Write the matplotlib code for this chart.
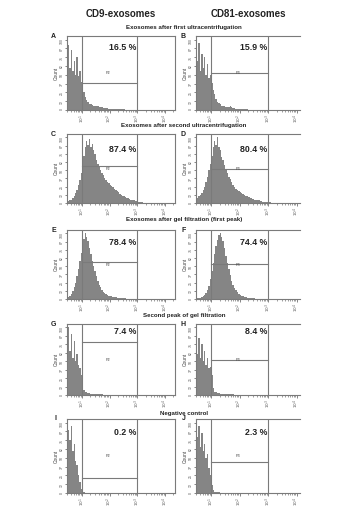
import numpy as np
import matplotlib.pyplot as plt
from matplotlib.ticker import LogLocator, NullFormatter, FixedLocator

plt.rcParams['font.family'] = ['Liberation Sans', 'DejaVu Sans']

columns = ['CD9-exosomes', 'CD81-exosomes']
row_titles = [
    'Exosomes after first ultracentrifugation',
    'Exosomes after second ultracentrifugation',
    'Exosomes after gel filtration (first peak)',
    'Second peak of gel filtration',
    'Negative control',
]
letters = ['A', 'B', 'C', 'D', 'E', 'F', 'G', 'H', 'I', 'J']
percents = ['16.5 %', '15.9 %', '87.4 %', '80.4 %', '78.4 %',
            '74.4 %', '7.4 %', '8.4 %', '0.2 %', '2.3 %']
gate_names = ['P2', 'P3'] * 5
# height of the gate's horizontal line (fraction of y max)
gate_level = [0.36, 0.50, 0.54, 0.49, 0.54, 0.51, 0.75, 0.50, 0.20, 0.42]

# histogram counts, bins of 0.05 decade starting at 10^0.5
hist_A = [92, 60, 85, 55, 70, 50, 75, 48, 55, 40, 35, 25, 18, 14, 11, 9, 8, 7, 6, 6,
          5, 5, 4, 4, 4, 3, 3, 3, 3, 2, 2, 2, 2, 2, 1, 1, 1, 1, 1, 1, 1]
hist_B = [70, 95, 55, 80, 60, 75, 50, 65, 45, 50, 38, 28, 22, 16, 12, 10, 8, 6, 5, 5,
          4, 4, 4, 5, 4, 3, 3, 2, 2, 2, 2, 1, 1, 1, 1, 1]
hist_C = [3, 4, 5, 8, 10, 15, 20, 28, 35, 45, 60, 72, 85, 95, 88, 98, 85, 90, 80, 75,
          65, 60, 55, 50, 46, 42, 38, 35, 32, 30, 28, 26, 24, 22, 20, 18, 16, 14, 12, 11,
          10, 9, 8, 7, 6, 5, 4, 4, 3, 3, 2, 2, 1, 1]
hist_D = [8, 10, 12, 15, 20, 25, 32, 40, 50, 60, 72, 85, 95, 88, 100, 85, 80, 70, 65, 58,
          52, 46, 40, 36, 32, 28, 25, 22, 20, 18, 16, 15, 14, 12, 11, 10, 9, 8, 7, 6,
          5, 5, 4, 4, 3, 3, 2, 2, 2, 1, 1, 1]
hist_E = [3, 5, 8, 12, 18, 25, 35, 45, 58, 70, 82, 92, 100, 95, 88, 78, 68, 58, 50, 42,
          35, 28, 22, 18, 14, 11, 9, 7, 6, 5, 4, 4, 3, 3, 3, 2, 2, 2, 1, 1, 1, 1]
hist_F = [1, 2, 2, 3, 4, 6, 9, 14, 20, 30, 42, 55, 68, 80, 90, 97, 100, 95, 88, 78,
          66, 55, 45, 36, 28, 22, 17, 13, 10, 8, 6, 5, 4, 3, 3, 2, 2, 2, 1, 1, 1]
hist_G = [100, 65, 90, 55, 80, 50, 60, 45, 40, 30, 20, 8, 5, 4, 3, 3, 2, 2, 2, 2,
          1, 1, 1, 1, 1]
hist_H = [60, 85, 55, 75, 50, 65, 45, 55, 40, 42, 30, 10, 5, 4, 3, 3, 2, 2, 2, 2,
          2, 1, 1, 1, 1, 1]
hist_I = [90, 75, 95, 60, 70, 45, 40, 25, 15, 6, 2, 1]
hist_J = [80, 95, 65, 85, 60, 70, 50, 55, 35, 25, 12, 4, 2, 1, 1, 1]
hists = [hist_A, hist_B, hist_C, hist_D, hist_E, hist_F, hist_G, hist_H, hist_I, hist_J]

W, H = 362, 512
fig = plt.figure(figsize=(W / 100, H / 100), dpi=100)

# axes boxes in pixels
col_x = [(67, 175), (196, 300)]
col_xlim = [(10 ** 0.46, 10 ** 4.36), (10 ** 0.47, 10 ** 4.12)]
row_y = [(36, 110), (134, 203), (230, 299), (324, 395), (419, 493)]
title_y = [27, 125, 219, 316, 414]
pct_top = [0.90, 0.90, 0.84, 0.84, 0.88, 0.88, 0.96, 0.96, 0.88, 0.88]

grey = '#858585'
line = '#7a7a7a'

for c, name in enumerate(columns):
    cx = (col_x[c][0] + col_x[c][1]) / 2
    fig.text(cx / W, 1 - 14 / H, name, ha='center', va='center',
             fontsize=7, fontweight='bold', color='#222222')

for r, t in enumerate(row_titles):
    fig.text(184 / W, 1 - title_y[r] / H, t, ha='center', va='center',
             fontsize=4.4, fontweight='bold', color='#222222')

for i, vals in enumerate(hists):
    r, c = divmod(i, 2)
    x0, x1 = col_x[c]
    y0, y1 = row_y[r]
    ax = fig.add_axes([x0 / W, 1 - y1 / H, (x1 - x0) / W, (y1 - y0) / H])
    edges = 10 ** (0.5 + 0.05 * np.arange(len(vals) + 1))
    ax.fill_between(edges, np.append(vals, 0), step='post', color=grey,
                    linewidth=0)
    ax.set_xscale('log')
    ax.set_xlim(*col_xlim[c])
    ax.set_ylim(0, 105)

    # gate
    ax.axvline(10, color=line, lw=0.8)
    ax.axvline(1000, color=line, lw=0.8)
    ax.plot([10, 1000], [gate_level[i] * 105] * 2, color=line, lw=0.8)
    ax.text(10 ** 1.95, 52, gate_names[i], fontsize=2.8, ha='center',
            va='center', color='#444444')
    ax.text(1000 * 0.93, pct_top[i] * 105, percents[i], ha='right', va='top',
            fontsize=6.3, fontweight='bold', color='#222222')

    ax.text(-0.1, 1.0, letters[i], transform=ax.transAxes, fontsize=5,
            fontweight='bold', ha='right', va='center', color='#222222')
    ax.set_ylabel('Count', fontsize=3.5, labelpad=1, color='#444444')

    for s in ax.spines.values():
        s.set_color(line)
        s.set_linewidth(0.8)
    if c == 1:
        ax.spines['right'].set_visible(False)

    ax.xaxis.set_major_locator(FixedLocator([10, 100, 1000, 10000]))
    ax.set_xticklabels(['$10^1$', '$10^2$', '$10^3$', '$10^4$'])
    ax.xaxis.set_minor_locator(LogLocator(base=10, subs=np.arange(2, 10), numticks=20))
    ax.xaxis.set_minor_formatter(NullFormatter())
    ax.set_yticks(np.arange(0, 101, 12.5))
    ax.set_yticklabels([str(int(v)) for v in np.arange(0, 101, 12.5)])
    ax.tick_params(axis='x', which='major', labelsize=3, length=2, width=0.5,
                   pad=1, labelrotation=90, colors='#555555')
    ax.tick_params(axis='x', which='minor', length=1.2, width=0.4, colors='#555555')
    ax.tick_params(axis='y', labelsize=2.5, length=1.5, width=0.5, pad=0.5,
                   labelrotation=90, colors='#555555')

fig.savefig('out.png', dpi=100)
